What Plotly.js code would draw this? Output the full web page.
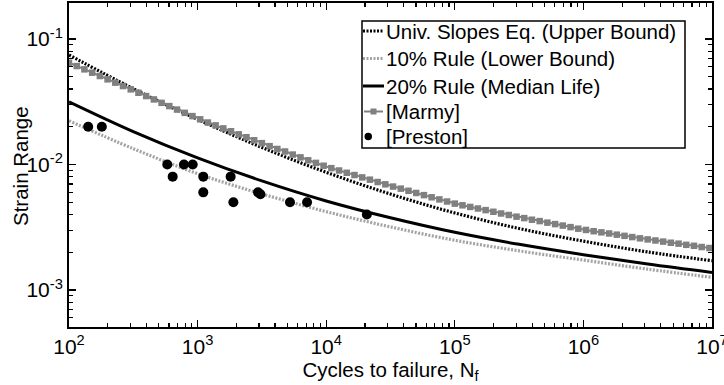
<!DOCTYPE html>
<html>
<head>
<meta charset="utf-8">
<script src="https://cdn.plot.ly/plotly-3.0.1.min.js"></script>
<style>html,body{margin:0;padding:0;background:#fff;}#chart{width:724px;height:385px;}</style>
</head>
<body>
<div id="chart"></div>
<script>
// Curve sample points (cycles to failure)
var curveN = [100, 316, 1000, 3162, 10000, 31623, 100000, 316228, 1000000, 3162278, 10000000];
var upperStrain  = [0.0746, 0.0402, 0.0229, 0.01368, 0.00867, 0.00581, 0.00411, 0.00309, 0.00245, 0.00201, 0.00171];
var lowerStrain  = [0.0223, 0.01337, 0.00845, 0.00583, 0.00421, 0.00318, 0.00249, 0.00205, 0.00173, 0.001466, 0.00126];
var medianStrain = [0.0316, 0.0183, 0.0113, 0.0074, 0.00512, 0.00376, 0.00288, 0.00231, 0.00191, 0.00161, 0.00138];

// Marmy data (log10 of cycles, strain range)
var marmyLogN = [2.00,2.06,2.12,2.18,2.24,2.30,2.36,2.42,2.48,2.54,2.60,2.66,2.72,2.78,2.84,2.90,2.96,
  3.02,3.08,3.14,3.20,3.26,3.32,3.38,3.44,3.50,3.56,3.62,3.68,3.74,3.80,3.86,3.92,3.98,
  4.04,4.10,4.16,4.22,4.28,4.34,4.40,4.46,4.52,4.58,4.64,4.70,4.76,4.82,4.88,4.94,
  5.00,5.06,5.12,5.18,5.24,5.30,5.36,5.42,5.48,5.54,5.60,5.66,5.72,5.78,5.84,5.90,5.96,
  6.02,6.08,6.14,6.20,6.26,6.32,6.38,6.44,6.50,6.56,6.62,6.68,6.74,6.80,6.86,6.92,6.98];
var marmyStrain = [0.0647,0.0609,0.0573,0.0539,0.0507,0.0477,0.0449,0.0422,0.0397,0.0373,0.0351,0.0330,0.0310,0.0292,0.0274,0.0258,0.0243,
  0.0229,0.0216,0.0205,0.0194,0.0184,0.0174,0.0165,0.0156,0.0148,0.0140,0.0133,0.0127,0.0120,0.0114,0.0108,0.0103,0.00978,
  0.00935,0.00896,0.00859,0.00824,0.00789,0.00757,0.00725,0.00695,0.00667,0.00642,0.00617,0.00593,0.00570,0.00548,0.00527,0.00507,
  0.00488,0.00473,0.00459,0.00446,0.00433,0.00420,0.00407,0.00396,0.00384,0.00374,0.00363,0.00354,0.00344,0.00335,0.00326,0.00317,0.00308,
  0.00301,0.00294,0.00288,0.00282,0.00276,0.00270,0.00264,0.00258,0.00253,0.00248,0.00243,0.00238,0.00234,0.00229,0.00225,0.00220,0.00216];

// Preston data
var prestonN = [141, 180, 581, 640, 783, 916, 1107, 1107, 1807, 1897, 2950, 3080, 5230, 7100, 20700];
var prestonStrain = [0.02, 0.02, 0.01, 0.008, 0.01, 0.01, 0.008, 0.006, 0.008, 0.005, 0.006, 0.0058, 0.005, 0.005, 0.004];

var seriesNames = ['Univ. Slopes Eq. (Upper Bound)', '10% Rule (Lower Bound)', '20% Rule (Median Life)', '[Marmy]', '[Preston]'];
var xTickVals = [100, 1000, 10000, 100000, 1000000, 10000000];
var xTickText = ['10<sup>2</sup>','10<sup>3</sup>','10<sup>4</sup>','10<sup>5</sup>','10<sup>6</sup>','10<sup>7</sup>'];
var yTickVals = [0.001, 0.01, 0.1];
var yTickText = ['10<sup>-3</sup>','10<sup>-2</sup>','10<sup>-1</sup>'];

var marmyN = marmyLogN.map(function(e){ return Math.pow(10, e); });

// minor tick positions (2..9 per decade)
function minorTicks(lo, hi) {
  var out = [];
  for (var d = lo; d < hi; d++) for (var m = 2; m <= 9; m++) out.push(m * Math.pow(10, d));
  return out;
}
var xMinor = minorTicks(2, 7);
var yMinor = minorTicks(-4, 0);

var colUpper = '#000000', colLower = '#a3a3a3', colMedian = '#000000', colMarmy = '#808080', colPreston = '#000000';
var dotDash = '2px,1.5px';

var traces = [
  {x: curveN, y: upperStrain, name: seriesNames[0], mode: 'lines', showlegend: false,
   line: {color: colUpper, width: 3.2, dash: dotDash, shape: 'spline'}},
  {x: curveN, y: lowerStrain, name: seriesNames[1], mode: 'lines', showlegend: false,
   line: {color: colLower, width: 3.2, dash: dotDash, shape: 'spline'}},
  {x: curveN, y: medianStrain, name: seriesNames[2], mode: 'lines', showlegend: false,
   line: {color: colMedian, width: 3, shape: 'spline'}},
  {x: marmyN, y: marmyStrain, name: seriesNames[3], mode: 'lines+markers', showlegend: false,
   line: {color: colMarmy, width: 2},
   marker: {symbol: 'square', size: 6.5, color: colMarmy}},
  {x: prestonN, y: prestonStrain, name: seriesNames[4], mode: 'markers', showlegend: false,
   marker: {symbol: 'circle', size: 10, color: colPreston}},
  // carrier for the minor-tick overlay axes
  {x: [1000], y: [0.01], xaxis: 'x2', yaxis: 'y2', mode: 'markers', showlegend: false,
   marker: {size: 0.1, opacity: 0}, hoverinfo: 'skip'}
];

// ---- hand-built legend (paper coordinates) ----
var X0 = 69, W = 643, YB = 327, H = 324;
function px(x) { return (x - X0) / W; }
function py(y) { return (YB - y) / H; }
var rowY = [31, 58.5, 86, 111.5, 136.5];
var symX0 = 363, symX1 = 384, textX = 385;

var shapes = [
  {type: 'rect', xref: 'paper', yref: 'paper', x0: px(362), x1: px(685), y0: py(148), y1: py(21),
   line: {color: '#000', width: 1.5}, fillcolor: '#ffffff', layer: 'above'},
  {type: 'line', xref: 'paper', yref: 'paper', x0: px(symX0), x1: px(symX1), y0: py(rowY[0]), y1: py(rowY[0]),
   line: {color: colUpper, width: 3, dash: dotDash}},
  {type: 'line', xref: 'paper', yref: 'paper', x0: px(symX0), x1: px(symX1), y0: py(rowY[1]), y1: py(rowY[1]),
   line: {color: colLower, width: 3, dash: dotDash}},
  {type: 'line', xref: 'paper', yref: 'paper', x0: px(symX0), x1: px(symX1), y0: py(rowY[2]), y1: py(rowY[2]),
   line: {color: colMedian, width: 3}},
  {type: 'line', xref: 'paper', yref: 'paper', x0: px(symX0 + 1), x1: px(symX1 - 1), y0: py(rowY[3]), y1: py(rowY[3]),
   line: {color: colMarmy, width: 2}},
  {type: 'rect', xref: 'paper', yref: 'paper', x0: px(370.5), x1: px(376.5), y0: py(rowY[3] + 3), y1: py(rowY[3] - 3),
   line: {width: 0}, fillcolor: colMarmy},
  {type: 'circle', xref: 'paper', yref: 'paper', x0: px(364.5), x1: px(372), y0: py(rowY[4] + 3.75), y1: py(rowY[4] - 3.75),
   line: {width: 0}, fillcolor: colPreston}
];
var fontFam = 'Arial, "Liberation Sans", sans-serif';
var annotations = seriesNames.map(function(name, i) {
  return {xref: 'paper', yref: 'paper', x: px(textX), y: py(rowY[i]), xanchor: 'left', yanchor: 'middle',
    text: name, showarrow: false, font: {family: fontFam, size: 20.5, color: '#000'}, borderpad: 0};
});
annotations.push({xref: 'paper', yref: 'paper', x: px(20), y: py(166), xanchor: 'center', yanchor: 'middle',
  text: 'Strain Range', textangle: -90, showarrow: false, font: {family: fontFam, size: 20.5, color: '#000'}});

var layout = {
  width: 724, height: 385,
  margin: {l: 69, r: 12, t: 3, b: 58, pad: 0},
  paper_bgcolor: '#ffffff', plot_bgcolor: '#ffffff',
  font: {family: fontFam, size: 21, color: '#000000'},
  showlegend: false,
  shapes: shapes,
  annotations: annotations,
  xaxis: {type: 'log', range: [2, 7], tickmode: 'array', tickvals: xTickVals, ticktext: xTickText,
    ticks: 'inside', ticklen: 7, tickwidth: 1.2, tickcolor: '#000', ticklabeloverflow: 'allow',
    showline: true, linecolor: '#000', linewidth: 2, mirror: 'allticks',
    showgrid: false, zeroline: false,
    tickfont: {family: fontFam, size: 21},
    title: {text: 'Cycles to failure, N<sub>f</sub>', font: {family: fontFam, size: 20.5}, standoff: 0}},
  yaxis: {type: 'log', range: [-3.295, -0.713], tickmode: 'array', tickvals: yTickVals, ticktext: yTickText,
    ticks: 'inside', ticklen: 7, tickwidth: 1.2, tickcolor: '#000', ticklabeloverflow: 'allow',
    showline: true, linecolor: '#000', linewidth: 2, mirror: 'allticks',
    showgrid: false, zeroline: false,
    tickfont: {family: fontFam, size: 21}},
  xaxis2: {type: 'log', range: [2, 7], overlaying: 'x', anchor: 'y2', side: 'bottom',
    tickmode: 'array', tickvals: xMinor, showticklabels: false,
    ticks: 'inside', ticklen: 4, tickwidth: 1.2, tickcolor: '#000', mirror: 'allticks',
    showline: false, showgrid: false, zeroline: false},
  yaxis2: {type: 'log', range: [-3.295, -0.713], overlaying: 'y', anchor: 'x2', side: 'left',
    tickmode: 'array', tickvals: yMinor, showticklabels: false,
    ticks: 'inside', ticklen: 4, tickwidth: 1.2, tickcolor: '#000', mirror: 'allticks',
    showline: false, showgrid: false, zeroline: false}
};

Plotly.newPlot('chart', traces, layout, {displayModeBar: false, staticPlot: true});
</script>
</body>
</html>
